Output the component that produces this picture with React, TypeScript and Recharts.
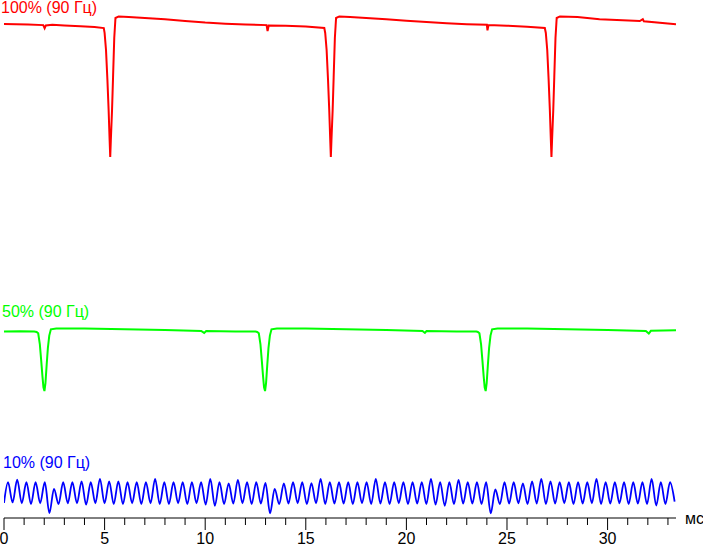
import { LineChart, Line, XAxis, YAxis } from "recharts";

// time in ms, values in relative brightness units
const RED_T = [
  0, 0.6, 1.2, 1.95, 2.02, 2.08, 2.4, 3.0, 3.8, 4.5, 4.96,
  5.0, 5.07, 5.14, 5.2, 5.25, 5.28, 5.31, 5.37, 5.42, 5.48, 5.54,
  5.7, 6.2, 7.0, 8.0, 9.0, 10.0, 11.0, 12.0, 13.05, 13.1, 13.16, 14.0, 15.0, 15.92,
  15.965, 16.035, 16.105, 16.165, 16.215, 16.245, 16.275, 16.335, 16.385, 16.445, 16.505,
  16.665, 17.2, 18.0, 19.0, 20.0, 21.0, 22.0, 23.0, 24.0, 24.03, 24.08, 25.0, 26.0, 26.88,
  26.93, 27.0, 27.07, 27.13, 27.18, 27.21, 27.24, 27.3, 27.35, 27.41, 27.47,
  27.63, 28.5, 29.6, 31.6, 31.75, 31.8, 33.4,
];
const RED_V = [
  95.0, 94.8, 94.6, 94.2, 92.0, 94.0, 94.4, 94.0, 93.4, 92.8, 92.1,
  88.6, 76.4, 55.0, 33.6, 12.0, 0.0, 12.0, 33.6, 57.0, 85.0, 99.3,
  100.4, 100.0, 99.2, 98.4, 97.2, 96.0, 95.2, 94.6, 94.2, 90.0, 94.0, 93.8, 93.2, 92.1,
  88.6, 76.4, 55.0, 33.6, 12.0, 0.0, 12.0, 33.6, 57.0, 85.0, 99.3,
  100.4, 100.0, 99.3, 98.4, 97.4, 96.4, 95.6, 94.9, 94.4, 90.5, 94.3, 93.8, 93.0, 92.1,
  88.6, 76.4, 55.0, 33.6, 12.0, 0.0, 12.0, 33.6, 57.0, 85.0, 99.3,
  100.4, 100.0, 98.4, 97.1, 98.5, 97.0, 94.8,
];

const GREEN_T = [
  0, 0.8, 1.5, 1.62, 1.7, 1.78, 1.85, 1.91, 1.96, 2.01, 2.06, 2.12, 2.18, 2.25, 2.33,
  2.6, 4.0, 6.0, 8.0, 9.8, 9.95, 10.05, 11.5, 12.5,
  12.585, 12.665, 12.745, 12.815, 12.875, 12.925, 12.975, 13.025, 13.085, 13.145, 13.215, 13.295,
  13.565, 15.0, 17.0, 19.0, 20.8, 20.92, 21.0, 22.5, 23.48,
  23.55, 23.63, 23.71, 23.78, 23.84, 23.89, 23.94, 23.99, 24.05, 24.11, 24.18, 24.26,
  24.53, 26.0, 28.0, 30.0, 31.9, 32.05, 32.15, 33.4,
];
const GREEN_V = [
  49.0, 49.1, 48.9, 48.6, 47.6, 40.0, 28.0, 17.0, 9.0, 6.4, 12.0, 25.0, 37.0, 46.0, 50.5,
  51.1, 51.0, 50.6, 50.0, 49.3, 47.9, 49.2, 49.0, 48.9,
  48.6, 47.6, 40.0, 28.0, 17.0, 9.0, 6.4, 12.0, 25.0, 37.0, 46.0, 50.5,
  51.1, 51.0, 50.6, 50.0, 49.3, 47.9, 49.2, 49.0, 48.9,
  48.6, 47.6, 40.0, 28.0, 17.0, 9.0, 6.4, 12.0, 25.0, 37.0, 46.0, 50.5,
  51.1, 51.0, 50.6, 50.0, 49.3, 47.5, 49.4, 49.8,
];

// blue: ripple, one peak and one trough per period
const BLUE_START = 6.8;
const BLUE_FIRST_PEAK_MS = 0.199;
const BLUE_PERIOD_MS = 0.457;
const BLUE_PEAKS = [
  14.2, 15.1, 14.2, 14.2, 14.2, 11.8, 14.2, 14.2, 14.5, 14.2,
  15.4, 14.5, 14.5, 14.2, 14.2, 14.2, 15.4, 14.2, 14.2, 14.2,
  14.2, 14.2, 15.4, 14.2, 13.8, 15.0, 14.2, 14.2, 14.0, 11.8,
  13.8, 14.2, 14.2, 13.9, 15.4, 14.2, 14.2, 14.2, 14.2, 14.2,
  15.4, 14.2, 14.2, 14.2, 14.2, 14.2, 15.4, 14.2, 14.2, 15.0,
  14.2, 14.2, 14.2, 11.6, 14.2, 14.2, 13.8, 14.5, 15.4, 14.5,
  14.2, 14.2, 14.2, 14.2, 15.4, 14.2, 14.2, 14.2, 14.2, 14.2,
  15.4, 14.2, 14.2,
];
const BLUE_TROUGHS = [
  7.0, 6.7, 6.4, 6.7, 3.2, 6.4, 6.7, 6.7, 6.2, 6.7,
  6.7, 6.4, 6.4, 6.7, 6.4, 6.7, 6.4, 6.4, 6.7, 6.4,
  6.7, 6.2, 5.8, 6.4, 6.6, 6.7, 6.4, 6.6, 3.1, 6.4,
  6.6, 6.7, 6.4, 6.7, 6.4, 6.6, 6.6, 6.4, 6.7, 6.4,
  6.6, 6.4, 6.7, 6.4, 6.6, 6.4, 6.2, 5.8, 6.4, 6.6,
  6.6, 6.4, 3.1, 6.4, 6.6, 6.7, 6.4, 6.6, 6.4, 6.6,
  6.7, 6.4, 6.6, 6.7, 6.4, 6.6, 6.7, 6.4, 6.6, 6.4,
  5.9, 6.4, 7.3,
];

const TICKS = [0, 1, 2, 3, 4, 5, 6, 7, 8, 9, 10, 11, 12, 13, 14, 15, 16, 17, 18, 19, 20, 21, 22, 23, 24, 25, 26, 27, 28, 29, 30, 31, 32, 33];
const MAJOR_TICKS = [0, 5, 10, 15, 20, 25, 30];

const redData = RED_T.map((t, i) => ({ t, v: RED_V[i] }));
const greenData = GREEN_T.map((t, i) => ({ t, v: GREEN_V[i] }));
const blueData = [
  { t: 0, v: BLUE_START },
  ...BLUE_PEAKS.flatMap((p, k) => [
    { t: BLUE_FIRST_PEAK_MS + k * BLUE_PERIOD_MS, v: p },
    { t: BLUE_FIRST_PEAK_MS + (k + 0.5) * BLUE_PERIOD_MS, v: BLUE_TROUGHS[k] },
  ]),
];

const FONT = "'Liberation Sans', Arial, sans-serif";

function AxisTick(props: any) {
  const { x, y, payload } = props;
  const major = MAJOR_TICKS.includes(payload.value);
  return (
    <g>
      <line x1={x} x2={x} y1={y} y2={y + (major ? 12 : 7)} stroke="#000" strokeWidth={1} />
      {major && (
        <text x={x} y={y + 25.5} textAnchor="middle" fill="#000" fontSize={16} fontFamily={FONT}>
          {payload.value}
        </text>
      )}
    </g>
  );
}

export default function App() {
  return (
    <div style={{ position: "absolute", left: 0, top: 0, width: 703, height: 546, background: "#fff" }}>
      <LineChart width={703} height={546} margin={{ top: 0, right: 27, bottom: 0, left: 4 }}>
        <XAxis
          type="number"
          dataKey="t"
          domain={[0, 33.4]}
          allowDataOverflow
          ticks={TICKS}
          interval={0}
          height={28}
          tickSize={0}
          tickMargin={0}
          tickLine={false}
          axisLine={{ stroke: "#000", strokeWidth: 1 }}
          tick={<AxisTick />}
        />
        <YAxis yAxisId="red" hide type="number" domain={[-257.86, 112.14]} allowDataOverflow />
        <YAxis yAxisId="green" hide type="number" domain={[-84.29, 285.71]} allowDataOverflow />
        <YAxis yAxisId="blue" hide type="number" domain={[1.43, 186.43]} allowDataOverflow />
        <Line yAxisId="red" data={redData} dataKey="v" type="linear" stroke="#ff0000" strokeWidth={2} dot={false} isAnimationActive={false} />
        <Line yAxisId="green" data={greenData} dataKey="v" type="linear" stroke="#00ff00" strokeWidth={2} dot={false} isAnimationActive={false} />
        <Line yAxisId="blue" data={blueData} dataKey="v" type="monotone" stroke="#0000ff" strokeWidth={1.8} dot={false} isAnimationActive={false} />
      </LineChart>
      <svg width={703} height={546} style={{ position: "absolute", left: 0, top: 0, pointerEvents: "none" }}>
        <text x={1} y={12.5} fill="#ff0000" fontSize={16} fontFamily={FONT}>100% (90 Гц)</text>
        <text x={2} y={317} fill="#00ff00" fontSize={16} fontFamily={FONT}>50% (90 Гц)</text>
        <text x={3} y={468} fill="#0000ff" fontSize={16} fontFamily={FONT}>10% (90 Гц)</text>
        <text x={685} y={524} fill="#000" fontSize={16} fontFamily={FONT}>мс</text>
      </svg>
    </div>
  );
}
